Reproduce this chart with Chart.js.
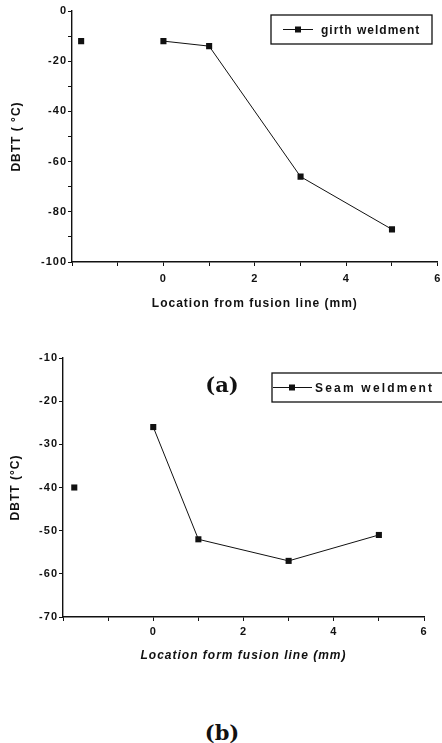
<!DOCTYPE html>
<html>
<head>
<meta charset="utf-8">
<script src="https://cdn.jsdelivr.net/npm/chart.js@4.4.1/dist/chart.umd.min.js"></script>
<style>
  body { margin: 0; background: #fff; }
  #wrap { position: relative; width: 442px; height: 743px; overflow: hidden; }
  canvas { position: absolute; left: 0; }
  .tag { position: absolute; font: bold 21px "DejaVu Serif", serif; color: #111; transform: translate(-50%, -50%); line-height: 1; }
</style>
</head>
<body>
<div id="wrap">
  <canvas id="girthChart" width="442" height="320" style="top:0px"></canvas>
  <canvas id="seamChart" width="442" height="340" style="top:330px"></canvas>
  <div class="tag" style="left:222px; top:384px">(a)</div>
  <div class="tag" style="left:222px; top:732px">(b)</div>
</div>
<script>
// values
const girthX = [0, 1, 3, 5];
const girthY = [-12, -14, -66, -87];
const girthBaseX = [-1.8];
const girthBaseY = [-12];

const seamX = [0, 1, 3, 5];
const seamY = [-26, -52, -57, -51];
const seamBaseX = [-1.75];
const seamBaseY = [-40];

const xTickLabels = [0, 2, 4, 6];
const girthYTickLabels = [0, -20, -40, -60, -80, -100];
const seamYTickLabels = [-10, -20, -30, -40, -50, -60, -70];

const ink = '#111';
const sans = '"Liberation Sans", Arial, sans-serif';

function toPoints(xs, ys) {
    return xs.map(function(x, i) { return { x: x, y: ys[i] }; });
}

function series(label, xs, ys, showLine) {
    return {
        label: label,
        data: toPoints(xs, ys),
        showLine: showLine,
        borderColor: ink,
        borderWidth: 1,
        tension: 0,
        pointStyle: 'rect',
        pointRadius: 4.3,
        pointBackgroundColor: ink,
        pointBorderWidth: 0
    };
}

// legend drawn as a framed box inside the plot, like the original
const boxLegend = {
    id: 'boxLegend',
    beforeDraw: function(chart) {
        chart.ctx.letterSpacing = '1px';
    },
    afterDraw: function(chart, args, opts) {
        let ctx = chart.ctx;
        let ds = chart.data.datasets[0];
        let cy = opts.y + opts.h / 2;
        ctx.save();
        ctx.strokeStyle = ink;
        ctx.lineWidth = 1.3;
        ctx.strokeRect(opts.x, opts.y, opts.w, opts.h);
        ctx.lineWidth = 1;
        ctx.beginPath();
        ctx.moveTo(opts.lineFrom, cy);
        ctx.lineTo(opts.lineTo, cy);
        ctx.stroke();
        ctx.fillStyle = ink;
        ctx.fillRect(opts.markerX - 3, cy - 3, 6, 6);
        ctx.letterSpacing = opts.spacing + 'px';
        ctx.font = 'bold 12px ' + sans;
        ctx.textBaseline = 'middle';
        ctx.fillText(ds.label, opts.textX, cy + 1);
        ctx.restore();
        ctx.letterSpacing = '0px';
    }
};

function axes(o) {
    return {
        x: {
            type: 'linear',
            min: -2,
            max: 6,
            afterFit: function(scale) {
                scale.height = o.xHeight;
                scale.paddingLeft = 0;
                scale.paddingRight = 0;
            },
            border: { color: ink, width: 1.4 },
            grid: { drawOnChartArea: false, color: ink, tickLength: 4 },
            ticks: {
                stepSize: 1,
                padding: o.xTickPad,
                color: ink,
                font: { family: sans, size: 11, weight: 'bold' },
                callback: function(v) { return xTickLabels.includes(v) ? v : ''; }
            },
            title: {
                display: true,
                text: o.xTitle,
                color: ink,
                padding: { top: 0, bottom: o.xTitlePad },
                font: { family: sans, size: 12, weight: 'bold', style: o.xTitleStyle }
            }
        },
        y: {
            type: 'linear',
            min: o.yMin,
            max: o.yMax,
            afterFit: function(scale) {
                scale.width = o.yWidth;
                scale.paddingTop = 0;
                scale.paddingBottom = 0;
            },
            border: { color: ink, width: 1.4 },
            grid: { drawOnChartArea: false, color: ink, tickLength: 4 },
            ticks: {
                stepSize: 10,
                padding: 1,
                color: ink,
                font: { family: sans, size: 11, weight: 'bold' },
                callback: function(v) { return o.yLabels.includes(v) ? v : ''; }
            },
            title: {
                display: true,
                text: o.yTitle,
                color: ink,
                padding: { top: o.yTitlePad, bottom: 0 },
                font: { family: sans, size: 12, weight: 'bold' }
            }
        }
    };
}

new Chart(document.getElementById('girthChart'), {
    type: 'scatter',
    data: {
        datasets: [
            series('girth weldment', girthX, girthY, true),
            series('base', girthBaseX, girthBaseY, false)
        ]
    },
    options: {
        responsive: false,
        animation: false,
        layout: { padding: { left: 0, right: 4, top: 11, bottom: 0 } },
        plugins: {
            legend: { display: false },
            tooltip: { enabled: false },
            boxLegend: { x: 271, y: 15, w: 161, h: 29, lineFrom: 283, lineTo: 313, markerX: 298, textX: 321, spacing: 1 }
        },
        scales: axes({
            xHeight: 58, yWidth: 72, xTitlePad: 9, yTitlePad: 9, xTickPad: 6,
            yMin: -100, yMax: 0, yLabels: girthYTickLabels,
            xTitle: 'Location from fusion line (mm)', xTitleStyle: 'normal',
            yTitle: 'DBTT ( \u00B0C)'
        })
    },
    plugins: [boxLegend]
});

new Chart(document.getElementById('seamChart'), {
    type: 'scatter',
    data: {
        datasets: [
            series('Seam weldment', seamX, seamY, true),
            series('base', seamBaseX, seamBaseY, false)
        ]
    },
    options: {
        responsive: false,
        animation: false,
        layout: { padding: { left: 0, right: 18, top: 28, bottom: 0 } },
        plugins: {
            legend: { display: false },
            tooltip: { enabled: false },
            boxLegend: { x: 272, y: 43, w: 172, h: 29, lineFrom: 273, lineTo: 312, markerX: 292, textX: 315, spacing: 2.2 }
        },
        scales: axes({
            xHeight: 53, yWidth: 63, xTitlePad: 7, yTitlePad: 8, xTickPad: 4,
            yMin: -70, yMax: -10, yLabels: seamYTickLabels,
            xTitle: 'Location form fusion line (mm)', xTitleStyle: 'italic',
            yTitle: 'DBTT (\u00B0C)'
        })
    },
    plugins: [boxLegend]
});
</script>
</body>
</html>
